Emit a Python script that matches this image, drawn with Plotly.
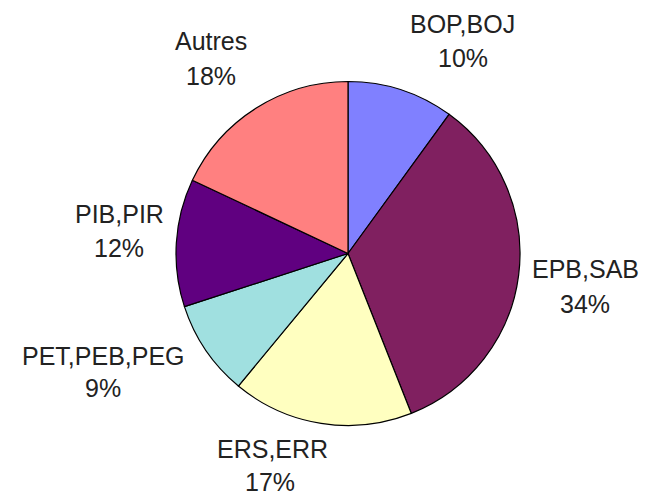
import plotly.graph_objects as go

labels = ["BOP,BOJ", "EPB,SAB", "ERS,ERR", "PET,PEB,PEG", "PIB,PIR", "Autres"]
values = [10, 34, 17, 9, 12, 18]
colors = ["#8080FF", "#802060", "#FFFFC0", "#A0E0E0", "#600080", "#FF8080"]

W, H = 647, 497
# label centres (pixels): name line and percentage line
label_pos = [
    ((462, 24), (463, 58)),
    ((585, 269), (585, 304)),
    ((272, 449), (270, 482)),
    ((103, 356), (103, 388)),
    ((119, 214), (119, 248)),
    ((211, 41), (211, 76)),
]

fig = go.Figure(go.Pie(
    labels=labels,
    values=values,
    sort=False,
    direction="clockwise",
    rotation=0,
    marker=dict(colors=colors, line=dict(color="black", width=1.2)),
    textinfo="none",
    hoverinfo="label+percent",
    showlegend=False,
    domain=dict(x=[176 / W, 520 / W], y=[(H - 425.5) / H, (H - 81.5) / H]),
))

font = dict(family="Liberation Sans, Arial, sans-serif", size=25, color="#222222")
total = sum(values)
for lab, val, (p1, p2) in zip(labels, values, label_pos):
    pct = f"{round(100 * val / total)}%"
    for txt, (px, py) in ((lab, p1), (pct, p2)):
        fig.add_annotation(
            text=txt, x=px / W, y=1 - py / H, xref="paper", yref="paper",
            xanchor="center", yanchor="middle", showarrow=False, font=font,
        )

fig.update_layout(
    width=W, height=H,
    margin=dict(l=0, r=0, t=0, b=0),
    paper_bgcolor="white", plot_bgcolor="white",
)

fig.write_html(
    "out.html",
    config={"displayModeBar": False},
    post_script="document.body.style.margin='0';document.body.style.overflow='hidden';",
)
